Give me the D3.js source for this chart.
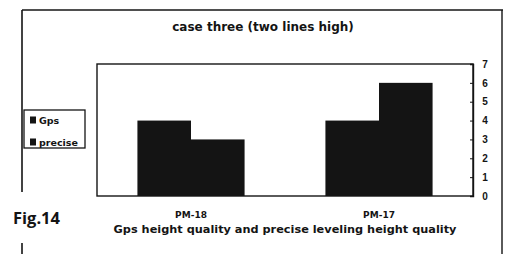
<!DOCTYPE html>
<html>
<head>
<meta charset="utf-8">
<script src="https://cdn.jsdelivr.net/npm/d3@7"></script>
<style>
  body { margin: 0; background: #fff; }
  svg { display: block; }
</style>
</head>
<body>
<div class="chartContainer"></div>
<script>
// Chart data
const categories = ['PM-18', 'PM-17'];
const seriesNames = ['Gps', 'precise'];
const gpsValues = [4, 4];
const preciseValues = [3, 6];
const yTicks = [0, 1, 2, 3, 4, 5, 6, 7];

const titleText = 'case three (two lines high)';
const xTitleText = 'Gps height quality and precise leveling height quality';

// Build rows for grouped bars
const rows = categories.map((c, i) => ({
  cat: c,
  values: [
    { key: 'Gps', value: gpsValues[i] },
    { key: 'precise', value: preciseValues[i] }
  ]
}));

const width = 508;
const height = 254;
const ink = '#141414';

// Plot area
let plot = { left: 97, right: 473, top: 64, bottom: 196 };

let svg = d3.select('div.chartContainer').append('svg')
  .attr('width', width)
  .attr('height', height)
  .attr('font-family', 'DejaVu Sans, Arial, sans-serif');

// outer frame (scanned, left edge broken by the caption)
svg.append('line')
  .attr('x1', 22).attr('y1', 10).attr('x2', 503).attr('y2', 10)
  .attr('stroke', ink).attr('stroke-width', 1.6);
svg.append('line')
  .attr('x1', 22).attr('y1', 10).attr('x2', 22).attr('y2', 192)
  .attr('stroke', ink).attr('stroke-width', 1.6);
svg.append('line')
  .attr('x1', 22).attr('y1', 243).attr('x2', 22).attr('y2', 254)
  .attr('stroke', ink).attr('stroke-width', 1.6);
svg.append('line')
  .attr('x1', 502).attr('y1', 10).attr('x2', 502).attr('y2', 254)
  .attr('stroke', ink).attr('stroke-width', 1.4);

// scales
const xScale = d3.scaleBand()
  .domain(categories)
  .range([plot.left, plot.right])
  .paddingInner(0.43)
  .paddingOuter(0.215);

const xSub = d3.scaleBand()
  .domain(seriesNames)
  .range([0, xScale.bandwidth()]);

const yScale = d3.scaleLinear()
  .domain([0, 7])
  .range([plot.bottom, plot.top]);

// plot frame
svg.append('rect')
  .attr('x', plot.left).attr('y', plot.top)
  .attr('width', plot.right - plot.left)
  .attr('height', plot.bottom - plot.top)
  .attr('fill', 'none')
  .attr('stroke', ink)
  .attr('stroke-width', 1.4);

// bars
svg.append('g')
  .selectAll('g')
  .data(rows)
  .enter().append('g')
  .attr('transform', d => 'translate(' + xScale(d.cat) + ',0)')
  .selectAll('rect')
  .data(d => d.values)
  .enter().append('rect')
  .attr('x', d => xSub(d.key))
  .attr('y', d => yScale(d.value))
  .attr('width', xSub.bandwidth())
  .attr('height', d => yScale(0) - yScale(d.value))
  .attr('fill', ink);

// right y axis
let yAxis = svg.append('g')
  .attr('transform', 'translate(' + plot.right + ',0)')
  .call(d3.axisRight(yScale).tickValues(yTicks).tickFormat(d3.format('d'))
    .tickSize(-3).tickPadding(12));
yAxis.select('path.domain').attr('stroke', ink).attr('stroke-width', 1.4);
yAxis.selectAll('line').attr('stroke', ink);
yAxis.selectAll('text')
  .attr('font-size', 10)
  .attr('font-weight', 'bold')
  .attr('fill', ink)
  .attr('text-anchor', 'middle');

// category labels
svg.append('g')
  .selectAll('text')
  .data(categories)
  .enter().append('text')
  .attr('x', d => xScale(d) + xScale.bandwidth() / 2)
  .attr('y', 218)
  .attr('text-anchor', 'middle')
  .attr('font-size', 9)
  .attr('font-weight', 'bold')
  .attr('fill', ink)
  .text(d => d);

// title
svg.append('text')
  .attr('x', 263).attr('y', 31)
  .attr('text-anchor', 'middle')
  .attr('font-size', 12)
  .attr('font-weight', 'bold')
  .attr('fill', ink)
  .text(titleText);

// x title
svg.append('text')
  .attr('x', 285).attr('y', 233)
  .attr('text-anchor', 'middle')
  .attr('font-size', 11.3)
  .attr('font-weight', 'bold')
  .attr('fill', ink)
  .text(xTitleText);

// legend
let legend = svg.append('g');
legend.append('rect')
  .attr('x', 24).attr('y', 110).attr('width', 61).attr('height', 38)
  .attr('fill', '#fff').attr('stroke', ink).attr('stroke-width', 1.3);
legend.selectAll('g')
  .data(seriesNames)
  .enter().append('g')
  .attr('transform', (d, i) => 'translate(30,' + (120 + i * 22) + ')')
  .each(function (d) {
    d3.select(this).append('rect')
      .attr('x', 0).attr('y', -3.5).attr('width', 6).attr('height', 7)
      .attr('fill', ink);
    d3.select(this).append('text')
      .attr('x', 9).attr('y', 3.5)
      .attr('font-size', 9.5)
      .attr('font-weight', 'bold')
      .attr('fill', ink)
      .text(d);
  });

// caption
svg.append('text')
  .attr('x', 13).attr('y', 224)
  .attr('font-family', 'Open Sans, DejaVu Sans, sans-serif')
  .attr('font-size', 16.5)
  .attr('font-weight', 'bold')
  .attr('fill', ink)
  .text('Fig.14');
</script>
</body>
</html>
